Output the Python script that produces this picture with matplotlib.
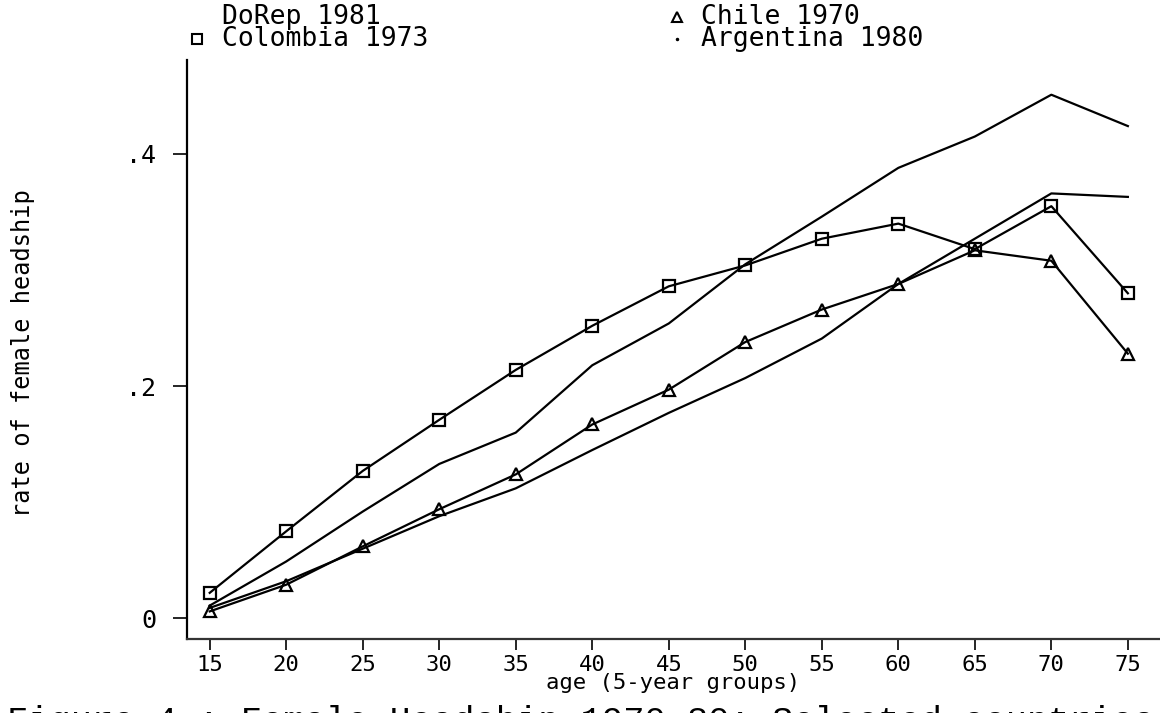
import matplotlib
matplotlib.use("Agg")
import matplotlib.pyplot as plt
from matplotlib.lines import Line2D

# rate of female headship by 5-year age group
ages = [15, 20, 25, 30, 35, 40, 45, 50, 55, 60, 65, 70, 75]
dorep_1981 = [0.011, 0.049, 0.092, 0.133, 0.160, 0.218, 0.254, 0.305, 0.346, 0.388, 0.415, 0.451, 0.424]
colombia_1973 = [0.022, 0.075, 0.127, 0.171, 0.214, 0.252, 0.286, 0.304, 0.327, 0.340, 0.318, 0.355, 0.280]
chile_1970 = [0.006, 0.029, 0.062, 0.094, 0.124, 0.167, 0.197, 0.238, 0.266, 0.288, 0.317, 0.308, 0.228]
argentina_1980 = [0.009, 0.032, 0.060, 0.088, 0.112, 0.145, 0.177, 0.207, 0.241, 0.288, 0.327, 0.366, 0.363]

xticks = [15, 20, 25, 30, 35, 40, 45, 50, 55, 60, 65, 70, 75]
yticks = [0, 0.2, 0.4]
ytick_labels = ["0", ".2", ".4"]

mono = "DejaVu Sans Mono"
plt.rcParams["font.family"] = mono

fig = plt.figure(figsize=(11.6, 7.13), dpi=100)
ax = fig.add_axes([0.161, 0.1034, 0.839, 0.8126])

lw = 1.6
ax.plot(ages, dorep_1981, color="black", lw=lw)
ax.plot(ages, colombia_1973, color="black", lw=lw, marker="s", ms=8.5,
        mfc="none", mec="black", mew=1.6)
ax.plot(ages, chile_1970, color="black", lw=lw, marker="^", ms=9,
        mfc="none", mec="black", mew=1.6)
ax.plot(ages, argentina_1980, color="black", lw=lw)

ax.set_xlim(13.5, 77.1)
ax.set_ylim(-0.018, 0.481)

for side in ["top", "right"]:
    ax.spines[side].set_visible(False)
ax.spines["left"].set_linewidth(1.6)
ax.spines["bottom"].set_linewidth(1.6)
ax.spines["bottom"].set_color("#333333")

ax.set_xticks(xticks)
ax.set_xticklabels([str(t) for t in xticks])
ax.set_yticks(yticks)
ax.set_yticklabels(ytick_labels)
ax.tick_params(axis="x", direction="out", length=8, width=1.2, pad=3, labelsize=16)
ax.tick_params(axis="y", direction="out", length=10, width=1.2, pad=12, labelsize=18)

ax.set_xlabel("age (5-year groups)", fontsize=16, labelpad=-1)
fig.text(0.02, 0.505, "rate of female headship", rotation=90,
         ha="center", va="center", fontsize=17)

# key across the top
fig.text(0.191, 0.976, "DoRep 1981", fontsize=19, va="center")
fig.text(0.191, 0.945, "Colombia 1973", fontsize=19, va="center")
fig.text(0.604, 0.976, "Chile 1970", fontsize=19, va="center")
fig.text(0.604, 0.945, "Argentina 1980", fontsize=19, va="center")
fig.add_artist(Line2D([0.1695], [0.945], transform=fig.transFigure, marker="s",
                      ms=7, mfc="none", mec="black", mew=1.5))
fig.add_artist(Line2D([0.5835], [0.976], transform=fig.transFigure, marker="^",
                      ms=7, mfc="none", mec="black", mew=1.5))
fig.add_artist(Line2D([0.5835], [0.945], transform=fig.transFigure, marker="o",
                      ms=1.5, mfc="black", mec="black"))

fig.text(0.006, 0.0112, "Figure 4 : Female Headship 1970-80: Selected countries",
         fontsize=25.5, family="Liberation Mono", va="top")

fig.savefig("out.png", dpi=100)
